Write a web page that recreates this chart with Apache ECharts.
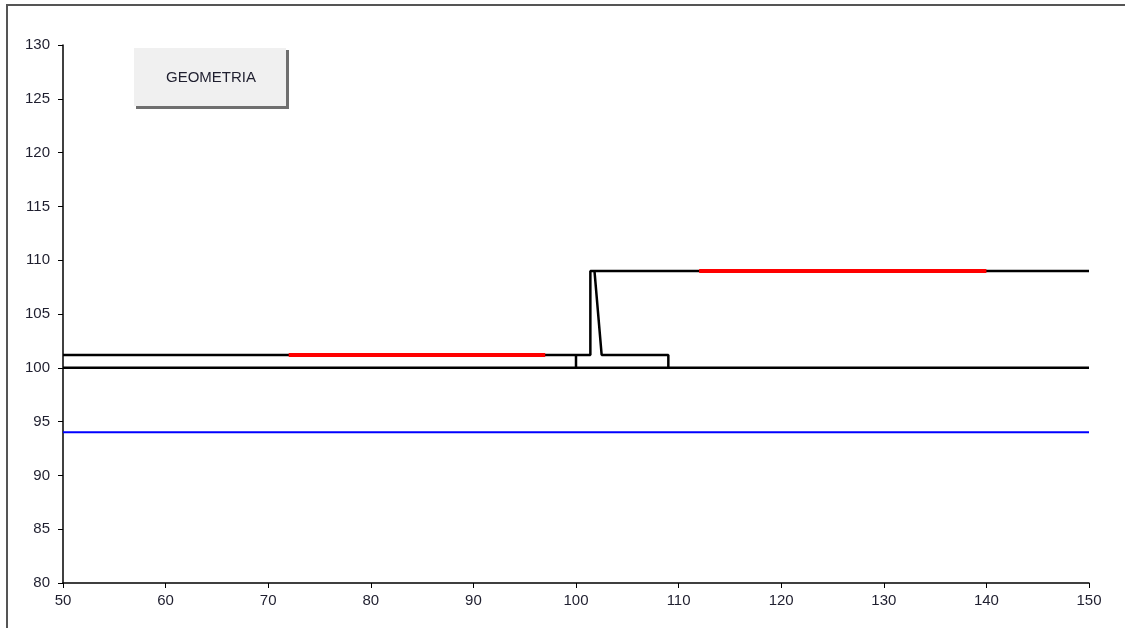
<!DOCTYPE html>
<html>
<head>
<meta charset="utf-8">
<script src="https://cdn.jsdelivr.net/npm/echarts@6/dist/echarts.min.js"></script>
<style>
    html, body { margin: 0; padding: 0; background: #fff; }
    #geo-chart { width: 1125px; height: 628px; }
</style>
</head>
<body>
<div id="geo-chart"></div>
<script>
// ticks
const xTicks = [50, 60, 70, 80, 90, 100, 110, 120, 130, 140, 150];
const yTicks = [80, 85, 90, 95, 100, 105, 110, 115, 120, 125, 130];

// profile lines (x, quota)
const groundLine = [[50, 100], [150, 100]];
const roadLine = [[50, 101.2], [101.4, 101.2], [101.4, 109], [150, 109]];
const wallLine = [[100, 100], [100, 101.2], '-', [101.8, 109], [102.5, 101.2], [109, 101.2], [109, 100]];
const redLeft = [[72, 101.2], [97, 101.2]];
const redRight = [[112, 109], [140, 109]];
const waterLine = [[50, 94], [150, 94]];

const myChart = echarts.init(document.getElementById('geo-chart'));

function lineSerie(data, color, width) {
    return {
        type: 'line',
        data: data,
        symbol: 'none',
        connectNulls: false,
        animation: false,
        lineStyle: { color: color, width: width },
        silent: true
    };
}

const option = {
    backgroundColor: '#fff',
    textStyle: { fontFamily: 'Liberation Sans, Arial, sans-serif' },
    grid: { left: 63, right: 36, top: 45, bottom: 45 },
    xAxis: {
        type: 'value',
        min: xTicks[0],
        max: xTicks[xTicks.length - 1],
        interval: 10,
        axisLine: { lineStyle: { color: '#000', width: 1.5 } },
        axisTick: { show: true, length: 5, lineStyle: { color: '#000' } },
        axisLabel: { color: '#1f1f2f', fontSize: 15, margin: 10 },
        splitLine: { show: false }
    },
    yAxis: {
        type: 'value',
        min: yTicks[0],
        max: yTicks[yTicks.length - 1],
        interval: 5,
        axisLine: { show: true, lineStyle: { color: '#000', width: 1.5 } },
        axisTick: { show: true, length: 5, lineStyle: { color: '#000' } },
        axisLabel: { color: '#1f1f2f', fontSize: 15, margin: 13 },
        splitLine: { show: false }
    },
    graphic: [
        {
            type: 'rect',
            shape: { x: 7, y: 5, width: 1200, height: 700 },
            style: { fill: 'none', stroke: '#555', lineWidth: 2 },
            z: 0
        },
        {
            type: 'rect',
            shape: { x: 136, y: 50, width: 153, height: 59 },
            style: { fill: '#6f6f6f' },
            z: 10
        },
        {
            type: 'rect',
            shape: { x: 134, y: 48, width: 152, height: 58 },
            style: { fill: '#f0f0f0' },
            z: 11
        },
        {
            type: 'text',
            x: 211,
            y: 78,
            style: {
                text: 'GEOMETRIA',
                fill: '#1f1f2f',
                fontSize: 15,
                fontFamily: 'Liberation Sans, Arial, sans-serif',
                align: 'center',
                verticalAlign: 'middle'
            },
            z: 12
        }
    ],
    series: [
        lineSerie(groundLine, '#000', 2.5),
        lineSerie(roadLine, '#000', 2.5),
        lineSerie(wallLine, '#000', 2.5),
        lineSerie(waterLine, '#0000ff', 2),
        lineSerie(redLeft, '#ff0000', 4),
        lineSerie(redRight, '#ff0000', 4)
    ]
};

myChart.setOption(option);
</script>
</body>
</html>
